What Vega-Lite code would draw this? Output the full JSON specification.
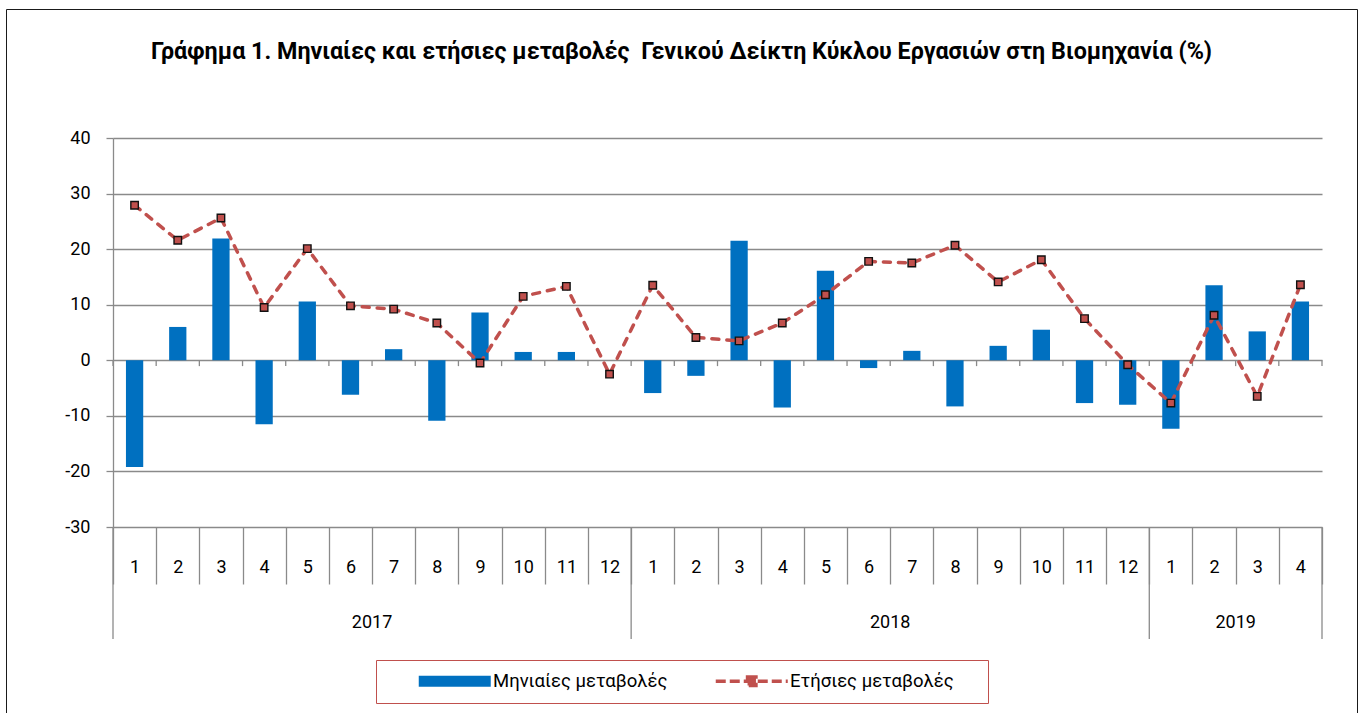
{
  "$schema": "https://vega.github.io/schema/vega-lite/v6.json",
  "width": 1209,
  "height": 389,
  "autosize": {"type": "none"},
  "padding": {"left": 113, "top": 138, "right": 40, "bottom": 186},
  "background": "white",
  "config": {"view": {"stroke": null}, "font": "Roboto"},
  "title": {
    "text": "Γράφημα 1. Μηνιαίες και ετήσιες μεταβολές\u00a0 Γενικού Δείκτη Κύκλου Εργασιών στη Βιομηχανία (%)",
    "font": "Roboto",
    "fontSize": 23.3,
    "fontWeight": "bold",
    "color": "#000000",
    "anchor": "middle",
    "baseline": "middle",
    "offset": -67,
    "dx": -36
  },
  "datasets": {
    "main": [
      {"idx": 0, "year": 2017, "month": 1, "monthly": -19.2, "annual": 27.9},
      {"idx": 1, "year": 2017, "month": 2, "monthly": 6.0, "annual": 21.6},
      {"idx": 2, "year": 2017, "month": 3, "monthly": 21.9, "annual": 25.6},
      {"idx": 3, "year": 2017, "month": 4, "monthly": -11.5, "annual": 9.5},
      {"idx": 4, "year": 2017, "month": 5, "monthly": 10.6, "annual": 20.1},
      {"idx": 5, "year": 2017, "month": 6, "monthly": -6.2, "annual": 9.8},
      {"idx": 6, "year": 2017, "month": 7, "monthly": 2.0, "annual": 9.2},
      {"idx": 7, "year": 2017, "month": 8, "monthly": -10.9, "annual": 6.7},
      {"idx": 8, "year": 2017, "month": 9, "monthly": 8.6, "annual": -0.5},
      {"idx": 9, "year": 2017, "month": 10, "monthly": 1.5, "annual": 11.5},
      {"idx": 10, "year": 2017, "month": 11, "monthly": 1.5, "annual": 13.3},
      {"idx": 11, "year": 2017, "month": 12, "monthly": 0.0, "annual": -2.5},
      {"idx": 12, "year": 2018, "month": 1, "monthly": -5.9, "annual": 13.5},
      {"idx": 13, "year": 2018, "month": 2, "monthly": -2.8, "annual": 4.1},
      {"idx": 14, "year": 2018, "month": 3, "monthly": 21.5, "annual": 3.5},
      {"idx": 15, "year": 2018, "month": 4, "monthly": -8.5, "annual": 6.7},
      {"idx": 16, "year": 2018, "month": 5, "monthly": 16.1, "annual": 11.8},
      {"idx": 17, "year": 2018, "month": 6, "monthly": -1.4, "annual": 17.8},
      {"idx": 18, "year": 2018, "month": 7, "monthly": 1.7, "annual": 17.5},
      {"idx": 19, "year": 2018, "month": 8, "monthly": -8.3, "annual": 20.7},
      {"idx": 20, "year": 2018, "month": 9, "monthly": 2.6, "annual": 14.1},
      {"idx": 21, "year": 2018, "month": 10, "monthly": 5.5, "annual": 18.1},
      {"idx": 22, "year": 2018, "month": 11, "monthly": -7.7, "annual": 7.5},
      {"idx": 23, "year": 2018, "month": 12, "monthly": -8.0, "annual": -0.8},
      {"idx": 24, "year": 2019, "month": 1, "monthly": -12.3, "annual": -7.7},
      {"idx": 25, "year": 2019, "month": 2, "monthly": 13.5, "annual": 8.1},
      {"idx": 26, "year": 2019, "month": 3, "monthly": 5.2, "annual": -6.5},
      {"idx": 27, "year": 2019, "month": 4, "monthly": 10.6, "annual": 13.6}
    ],
    "years": [
      {"year": "2017", "at": 6},
      {"year": "2018", "at": 18},
      {"year": "2019", "at": 26}
    ]
  },
  "layer": [
    {
      "data": {"name": "main"},
      "mark": {"type": "bar", "width": {"band": 0.4}},
      "encoding": {
        "x": {
          "field": "idx",
          "type": "ordinal",
          "scale": {"domain": [0,1,2,3,4,5,6,7,8,9,10,11,12,13,14,15,16,17,18,19,20,21,22,23,24,25,26,27], "paddingInner": 0, "paddingOuter": 0},
          "axis": {
            "title": null,
            "labelExpr": "isNumber(datum.value) ? '' + (datum.value % 12 + 1) : ''",
            "labelAngle": 0,
            "labelFont": "Roboto",
            "labelFontSize": 18,
            "labelColor": "#000000",
            "labelBaseline": "middle",
            "labelPadding": -17,
            "tickBand": "extent",
            "tickSize": 57,
            "tickColor": "#8a8a8a",
            "tickWidth": 1.3,
            "domain": false,
            "grid": false
          }
        },
        "y": {
          "field": "monthly",
          "type": "quantitative",
          "scale": {"domain": [-30, 40], "nice": false, "zero": false},
          "axis": {
            "title": null,
            "values": [-30, -20, -10, 0, 10, 20, 30, 40],
            "labelExpr": "'' + datum.value",
            "labelFont": "Roboto",
            "labelFontSize": 18,
            "labelColor": "#000000",
            "labelPadding": 16,
            "tickSize": 7,
            "tickColor": "#8a8a8a",
            "tickWidth": 1.3,
            "domainColor": "#8a8a8a",
            "domainWidth": 1.3,
            "grid": true,
            "gridColor": "#8a8a8a",
            "gridWidth": 1.3
          }
        },
        "fill": {
          "datum": "Μηνιαίες μεταβολές",
          "scale": {"domain": ["Μηνιαίες μεταβολές"], "range": ["#0070C0"]},
          "legend": {
            "title": null,
            "orient": "none",
            "legendX": 263,
            "legendY": 522,
            "direction": "horizontal",
            "strokeColor": "#C0504D",
            "padding": 12,
            "labelFont": "Roboto",
            "labelFontSize": 18.5,
            "labelColor": "#000000",
            "labelLimit": 1000,
            "symbolType": "M-6,-0.9H6V0.9H-6ZM86.8,0",
            "symbolSize": 144,
            "symbolStrokeWidth": 0,
            "symbolOffset": 57.5,
            "labelOffset": 29
          }
        }
      }
    },
    {
      "data": {"name": "main"},
      "mark": {"type": "rule", "color": "#8a8a8a", "strokeWidth": 1.3},
      "encoding": {
        "x": {"field": "idx", "type": "ordinal", "bandPosition": 0},
        "y": {"datum": 0, "type": "quantitative"},
        "y2": {"datum": -1.05}
      }
    },
    {
      "data": {"name": "main"},
      "transform": [{"filter": "datum.month == 1"}],
      "mark": {"type": "rule", "color": "#8a8a8a", "strokeWidth": 1.3},
      "encoding": {
        "x": {"field": "idx", "type": "ordinal", "bandPosition": 0},
        "y": {"datum": -30, "type": "quantitative"},
        "y2": {"datum": -50.15}
      }
    },
    {
      "data": {"name": "main"},
      "transform": [{"filter": "datum.idx == 27"}],
      "mark": {"type": "rule", "color": "#8a8a8a", "strokeWidth": 1.3},
      "encoding": {
        "x": {"field": "idx", "type": "ordinal", "bandPosition": 1},
        "y": {"datum": -30, "type": "quantitative"},
        "y2": {"datum": -50.15}
      }
    },
    {
      "data": {"name": "main"},
      "transform": [{"filter": "datum.idx == 27"}],
      "mark": {"type": "rule", "color": "#8a8a8a", "strokeWidth": 1.3},
      "encoding": {
        "x": {"field": "idx", "type": "ordinal", "bandPosition": 1},
        "y": {"datum": 0, "type": "quantitative"},
        "y2": {"datum": -1.05}
      }
    },
    {
      "data": {"name": "years"},
      "mark": {"type": "text", "font": "Roboto", "fontSize": 18, "color": "#000000", "baseline": "middle", "align": "center"},
      "encoding": {
        "x": {"field": "at", "type": "ordinal", "bandPosition": 0},
        "y": {"datum": -47.3, "type": "quantitative"},
        "text": {"field": "year"}
      }
    },
    {
      "data": {"name": "main"},
      "mark": {"type": "line", "strokeWidth": 3.5, "strokeDash": [7, 8], "strokeCap": "round"},
      "encoding": {
        "x": {"field": "idx", "type": "ordinal"},
        "y": {"field": "annual", "type": "quantitative"},
        "stroke": {
          "datum": "Ετήσιες μεταβολές",
          "scale": {"domain": ["Ετήσιες μεταβολές"], "range": ["#C0504D"]},
          "legend": {
            "title": null,
            "orient": "none",
            "legendX": 560,
            "legendY": 522,
            "direction": "horizontal",
            "padding": 12,
            "labelFont": "Roboto",
            "labelFontSize": 18.5,
            "labelColor": "#000000",
            "labelLimit": 1000,
            "symbolType": "M-6,0H6M-0.7,-0.7H0.7V0.7H-0.7Z",
            "symbolSize": 144,
            "symbolStrokeWidth": 3.5,
            "symbolDash": [10, 4],
            "symbolFillColor": "#C0504D",
            "symbolOffset": 57.5,
            "labelOffset": 29
          }
        }
      }
    },
    {
      "data": {"name": "main"},
      "mark": {"type": "point", "shape": "square", "size": 56, "filled": true, "fill": "#C0504D", "stroke": "#111111", "strokeWidth": 1.4, "opacity": 1},
      "encoding": {
        "x": {"field": "idx", "type": "ordinal"},
        "y": {"field": "annual", "type": "quantitative"},
        "strokeDash": {
          "datum": "frame",
          "scale": {"domain": ["frame"], "range": [[1, 0]]},
          "legend": {
            "title": null,
            "orient": "none",
            "legendX": -107,
            "legendY": -129,
            "padding": 0,
            "strokeColor": "#1a1a1a",
            "labelExpr": "''",
            "labelFontSize": 1,
            "symbolType": "M-1,-1M1350,800",
            "symbolSize": 4,
            "symbolStrokeWidth": 0,
            "symbolOffset": 0,
            "labelOffset": 0
          }
        }
      }
    }
  ]
}
